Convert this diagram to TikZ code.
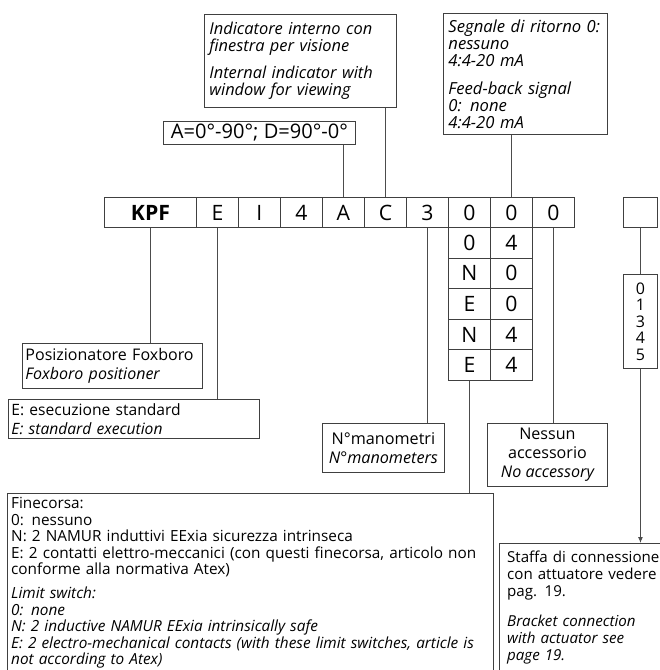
\documentclass[tikz,border=0pt]{standalone}
\usepackage{fontspec}
\setmainfont{Open Sans}
\usetikzlibrary{arrows.meta}
\newlength\fitlen
\newcommand\fitsize[3]{\settowidth\fitlen{\fontsize{10pt}{12pt}\selectfont#2}%
  \pgfmathsetmacro\fitfs{10*#1/\fitlen}\fontsize{\fitfs pt}{#3pt}\selectfont}
\tikzset{
  bx/.style={draw=black!75, line width=0.9pt, anchor=north west, inner sep=0pt},
  cellfont/.style={font={\fitsize{39}{\bfseries KPF}{18}}},
  cell/.style={bx, minimum width=42, minimum height=30, cellfont},
  sub/.style={bx, minimum width=42, minimum height=30.6, cellfont},
  txt/.style={anchor=north west, inner sep=0pt, align=left},
  conn/.style={draw=black!70, line width=0.9pt},
}
\begin{document}
\begin{tikzpicture}[x=1pt,y=-1pt]
\useasboundingbox (0,0) rectangle (660,670);
\clip (0,0) rectangle (660,670);
% main code row
\node[cell, minimum width=92] (kpf) at (104,197) {\bfseries KPF};
\node[cell] (e) at (196,197) {E};
\node[cell] (i) at (238,197) {I};
\node[cell] (four) at (280,197) {4};
\node[cell] (a) at (322,197) {A};
\node[cell] (c) at (364,197) {C};
\node[cell] (three) at (406,197) {3};
\node[cell] (z1) at (448,197) {0};
\node[cell] (z2) at (490,197) {0};
\node[cell] (z3) at (532,197) {0};
% sub cells
\node[sub] (s1a) at (448,227) {0};   \node[sub] (s1b) at (490,227) {4};
\node[sub] (s2a) at (448,257.6) {N}; \node[sub] (s2b) at (490,257.6) {0};
\node[sub] (s3a) at (448,288.2) {E}; \node[sub] (s3b) at (490,288.2) {0};
\node[sub] (s4a) at (448,318.8) {N}; \node[sub] (s4b) at (490,318.8) {4};
\node[sub] (s5a) at (448,349.4) {E}; \node[sub] (s5b) at (490,349.4) {4};
% bracket
\node[cell, minimum width=34] (eb) at (623,197) {};
\node[bx, minimum width=34, minimum height=94, align=center,
      font={\fontsize{16}{16.5}\selectfont}] (col) at (623,274) {0\\1\\3\\4\\5};
% top boxes
\node[bx, minimum width=192, minimum height=93, text width=182, inner xsep=5pt,
      align=left, font={\fitsize{161}{\itshape Internal indicator with}{17}\itshape}] (t1) at (204,14)
  {Indicatore interno con\\finestra per visione\\[10pt]Internal indicator with\\window for viewing};
\node[bx, minimum width=192, minimum height=23, font={\fitsize{177}{A=0°-90°; D=90°-0°}{18}}] (ang) at (163,121)
  {A=0°-90°; D=90°-0°};
\node[bx, minimum width=164, minimum height=121, text width=154, inner xsep=5pt,
      align=left, font={\fitsize{148}{\itshape Segnale di ritorno 0:}{17}\itshape}] (sg) at (443,13)
  {Segnale di ritorno 0:\\nessuno\\4:4-20 mA\\[11pt]Feed-back signal\\0: none\\4:4-20 mA};
% bottom boxes
\node[bx, minimum width=180, minimum height=45, text width=174, inner xsep=3pt,
      align=left, font={\fitsize{167}{Posizionatore Foxboro}{19}}] (pos) at (22,343)
  {Posizionatore Foxboro\\\itshape Foxboro positioner};
\node[bx, minimum width=251, minimum height=39, text width=245, inner xsep=3pt,
      align=left, font={\fitsize{167}{E: esecuzione standard}{19}}] (ex) at (8,399)
  {E: esecuzione standard\\\itshape E: standard execution};
\node[bx, minimum width=122, minimum height=49, align=center,
      font={\fitsize{109}{\itshape N°manometers}{19}}] (nm) at (322,423)
  {N°manometri\\\itshape N°manometers};
\node[bx, minimum width=120, minimum height=63, align=center,
      font={\fitsize{93}{\itshape No accessory}{19}}] (ness) at (487,423)
  {Nessun\\accessorio\\\itshape No accessory};
\node[bx, minimum width=486, minimum height=220] (fc) at (7,493) {};
\node[txt, text width=480, font={\fitsize{456}{E: 2 contatti elettro-meccanici (con questi finecorsa, articolo non}{16.6}}] (fct) at (11,497)
  {Finecorsa:\\0: nessuno\\N: 2 NAMUR induttivi EExia sicurezza intrinseca\\
   E: 2 contatti elettro-meccanici (con questi finecorsa, articolo non\\conforme alla normativa Atex)\\[7pt]
   \itshape Limit switch:\\\itshape 0: none\\\itshape N: 2 inductive NAMUR EExia intrinsically safe\\
   \itshape E: 2 electro-mechanical contacts (with these limit switches, article is\\\itshape not according to Atex)};
\node[bx, minimum width=200, minimum height=200] (st) at (499,543) {};
\node[txt, text width=160, font={\fitsize{150}{Staffa di connessione}{17}}] (stt) at (507,551)
  {Staffa di connessione\\con attuatore vedere\\pag. 19.\\[13pt]
   \itshape Bracket connection\\\itshape with actuator see\\\itshape page 19.};
% connectors
\draw[conn] (kpf.south) -- (kpf.south |- pos.north);
\draw[conn] (e.south) -- (e.south |- ex.north);
\draw[conn] (a.north) -- (a.north |- ang.south);
\draw[conn] (c.north) -- (c.north |- t1.south);
\draw[conn] (z2.north) -- (z2.north |- sg.south);
\draw[conn] (three.south) -- (three.south |- nm.north);
\draw[conn] (s5a.south) -- (s5a.south |- fc.north);
\draw[conn] (z3.south) -- (z3.south |- ness.north);
\draw[conn] (eb.south) -- (col.north);
\draw[conn, -{Latex[length=6pt,width=5pt]}] (col.south) -- (col.south |- st.north);
\end{tikzpicture}
\end{document}
